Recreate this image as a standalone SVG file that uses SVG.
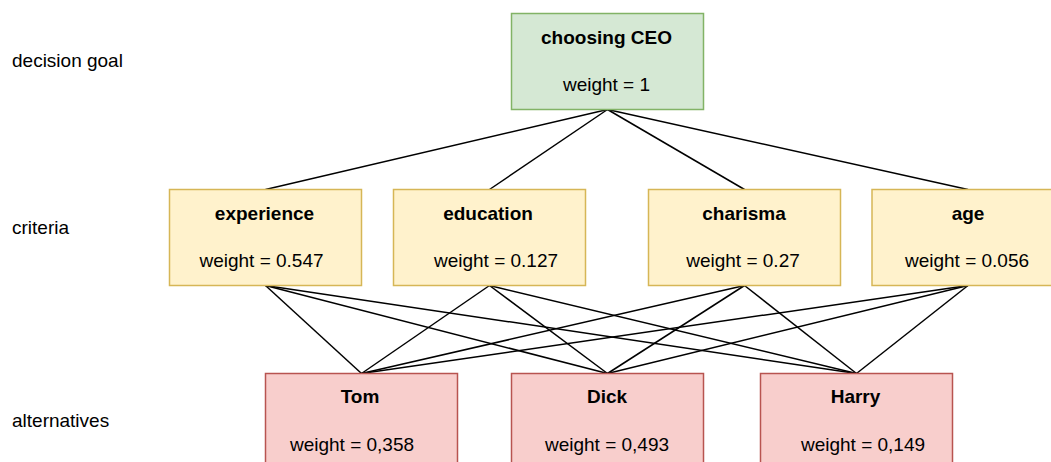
<svg xmlns="http://www.w3.org/2000/svg" width="1051" height="462" viewBox="0 0 1051 462">
<style>
text{font-family:"Liberation Sans",Arial,Helvetica,sans-serif;font-size:19px;fill:#000}
.t{font-weight:bold;text-anchor:middle}
.w{text-anchor:middle}
.goal{fill:#d5e8d4;stroke:#82b366;stroke-width:1.5}
.crit{fill:#fff2cc;stroke:#d6b656;stroke-width:1.5}
.alt{fill:#f8cecc;stroke:#b85450;stroke-width:1.5}
#connectors line{stroke:#000;stroke-width:1.5}
</style>
<rect width="1051" height="462" fill="#fff"/>
<g id="labels">
<text x="12" y="67">decision goal</text>
<text x="12" y="234">criteria</text>
<text x="12" y="427">alternatives</text>
</g>
<g id="connectors">
<line x1="607.5" y1="109.5" x2="265.5" y2="189.5"/>
<line x1="607.5" y1="109.5" x2="489.5" y2="189.5"/>
<line x1="607.5" y1="109.5" x2="744.5" y2="189.5"/>
<line x1="607.5" y1="109.5" x2="968" y2="189.5"/>
<line x1="265.5" y1="285.5" x2="361.5" y2="373.5"/>
<line x1="265.5" y1="285.5" x2="607.5" y2="373.5"/>
<line x1="265.5" y1="285.5" x2="856.5" y2="373.5"/>
<line x1="489.5" y1="285.5" x2="361.5" y2="373.5"/>
<line x1="489.5" y1="285.5" x2="607.5" y2="373.5"/>
<line x1="489.5" y1="285.5" x2="856.5" y2="373.5"/>
<line x1="744.5" y1="285.5" x2="361.5" y2="373.5"/>
<line x1="744.5" y1="285.5" x2="607.5" y2="373.5"/>
<line x1="744.5" y1="285.5" x2="856.5" y2="373.5"/>
<line x1="968" y1="285.5" x2="361.5" y2="373.5"/>
<line x1="968" y1="285.5" x2="607.5" y2="373.5"/>
<line x1="968" y1="285.5" x2="856.5" y2="373.5"/>
</g>
<g id="goal">
<rect class="goal" x="511.5" y="13.5" width="192" height="96"/>
<text class="t" x="606.5" y="43.5">choosing CEO</text>
<text class="w" x="606.5" y="90.5">weight = 1</text>
</g>
<g id="experience">
<rect class="crit" x="169.5" y="189.5" width="192" height="96"/>
<text class="t" x="264.5" y="219.5">experience</text>
<text class="w" x="261.5" y="266.5">weight = 0.547</text>
</g>
<g id="education">
<rect class="crit" x="393.5" y="189.5" width="192" height="96"/>
<text class="t" x="488" y="219.5">education</text>
<text class="w" x="496" y="266.5">weight = 0.127</text>
</g>
<g id="charisma">
<rect class="crit" x="648.5" y="189.5" width="192" height="96"/>
<text class="t" x="744" y="219.5">charisma</text>
<text class="w" x="743" y="266.5">weight = 0.27</text>
</g>
<g id="age">
<rect class="crit" x="872" y="189.5" width="192" height="96"/>
<text class="t" x="968" y="219.5">age</text>
<text class="w" x="967" y="266.5">weight = 0.056</text>
</g>
<g id="tom">
<rect class="alt" x="265.5" y="373.5" width="192" height="96"/>
<text class="t" x="360" y="403">Tom</text>
<text class="w" x="352" y="450.5">weight = 0,358</text>
</g>
<g id="dick">
<rect class="alt" x="511.5" y="373.5" width="192" height="96"/>
<text class="t" x="607" y="403">Dick</text>
<text class="w" x="607" y="450.5">weight = 0,493</text>
</g>
<g id="harry">
<rect class="alt" x="760.5" y="373.5" width="192" height="96"/>
<text class="t" x="855.5" y="403">Harry</text>
<text class="w" x="863" y="450.5">weight = 0,149</text>
</g>
</svg>
